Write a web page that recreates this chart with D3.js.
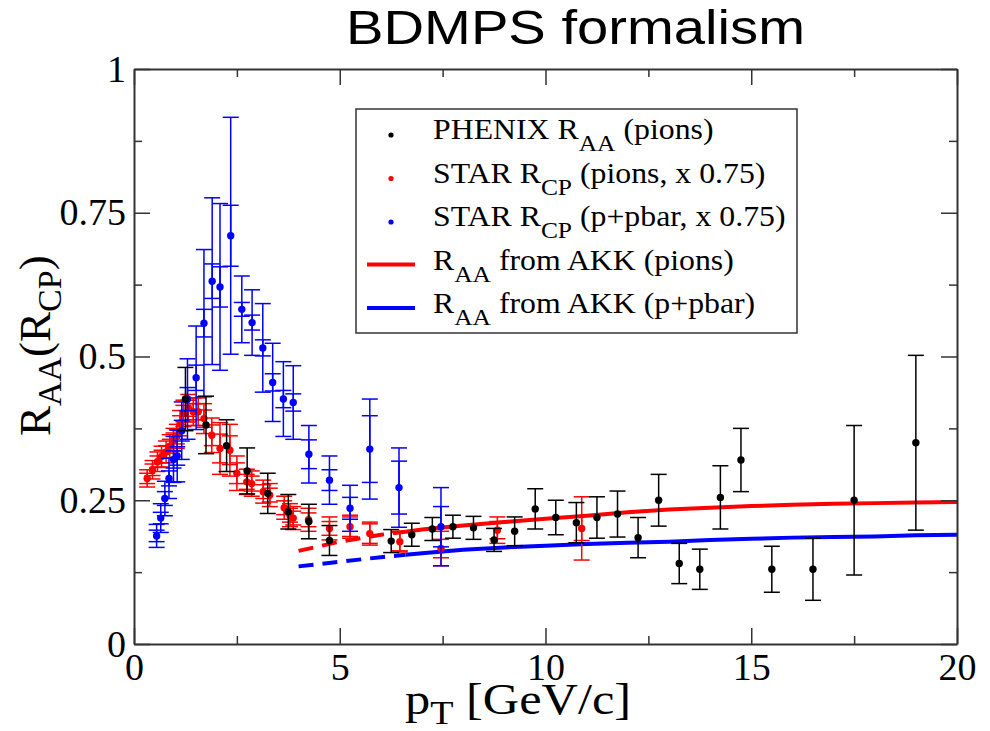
<!DOCTYPE html>
<html>
<head>
<meta charset="utf-8">
<script src="https://cdn.jsdelivr.net/npm/d3@7/dist/d3.min.js"></script>
<style>
  body { margin: 0; background: #fff; }
  svg text { font-family: "Liberation Serif", "Times New Roman", serif; fill: #000; }
</style>
</head>
<body>
<svg width="990" height="731"></svg>
<script>
// PHENIX R_AA (pions)
const phenixPt  = [1.25, 1.75, 2.25, 2.75, 3.25, 3.75, 4.25, 4.75, 6.25, 6.75, 7.25, 7.75, 8.25, 8.75, 9.25, 9.75, 10.25, 10.75, 11.25, 11.75, 12.25, 12.75, 13.25, 13.75, 14.25, 14.75, 15.5, 16.5, 17.5, 19.0]
const phenixR   = [0.426, 0.381, 0.345, 0.301, 0.262, 0.230, 0.213, 0.180, 0.179, 0.190, 0.200, 0.204, 0.202, 0.181, 0.196, 0.235, 0.220, 0.211, 0.220, 0.226, 0.185, 0.250, 0.140, 0.130, 0.255, 0.320, 0.130, 0.130, 0.250, 0.350]
const phenixErr = [0.055, 0.050, 0.045, 0.040, 0.035, 0.030, 0.030, 0.026, 0.020, 0.020, 0.020, 0.020, 0.020, 0.020, 0.025, 0.035, 0.030, 0.035, 0.036, 0.040, 0.035, 0.045, 0.035, 0.035, 0.055, 0.055, 0.040, 0.054, 0.130, 0.152]

// STAR R_CP (pions, x 0.75)
const starPiPt    = [0.32, 0.45, 0.57, 0.67, 0.78, 0.87, 0.96, 1.04, 1.12, 1.20, 1.32, 1.44, 1.56, 1.70, 1.89, 2.09, 2.33, 2.50, 2.74, 2.86, 3.14, 3.30, 3.65, 3.79, 3.87, 4.24, 4.75, 5.25, 5.73, 6.46, 7.46, 8.83, 10.88]
const starPiR     = [0.288, 0.303, 0.317, 0.326, 0.334, 0.344, 0.355, 0.361, 0.384, 0.401, 0.410, 0.404, 0.404, 0.392, 0.363, 0.340, 0.337, 0.297, 0.282, 0.279, 0.265, 0.259, 0.237, 0.224, 0.219, 0.216, 0.201, 0.204, 0.192, 0.178, 0.166, 0.198, 0.201]
const starPiOuter = [0.015, 0.016, 0.017, 0.018, 0.019, 0.020, 0.020, 0.021, 0.022, 0.023, 0.024, 0.024, 0.024, 0.026, 0.030, 0.045, 0.045, 0.030, 0.022, 0.022, 0.020, 0.020, 0.020, 0.020, 0.020, 0.020, 0.020, 0.020, 0.020, 0.018, 0.030, 0.023, 0.055]
const starPiInner = [0.009, 0.010, 0.010, 0.011, 0.011, 0.012, 0.012, 0.013, 0.013, 0.014, 0.014, 0.014, 0.014, 0.015, 0.018, 0.025, 0.025, 0.018, 0.013, 0.013, 0.012, 0.012, 0.012, 0.012, 0.012, 0.012, 0.012, 0.017, 0.017, 0.016, 0.016, 0.015, 0.021]

// STAR R_CP (p+pbar, x 0.75)
const starPPt    = [0.55, 0.65, 0.75, 0.85, 0.96, 1.05, 1.16, 1.30, 1.51, 1.70, 1.90, 2.09, 2.35, 2.62, 2.87, 3.13, 3.37, 3.63, 3.87, 4.25, 4.75, 5.25, 5.73, 6.44, 7.46]
const starPR     = [0.188, 0.219, 0.253, 0.288, 0.321, 0.327, 0.371, 0.426, 0.463, 0.558, 0.631, 0.621, 0.710, 0.582, 0.559, 0.515, 0.455, 0.426, 0.420, 0.330, 0.285, 0.236, 0.339, 0.272, 0.204]
const starPOuter = [0.020, 0.025, 0.030, 0.035, 0.040, 0.045, 0.050, 0.070, 0.090, 0.128, 0.145, 0.145, 0.206, 0.058, 0.057, 0.077, 0.068, 0.065, 0.064, 0.050, 0.042, 0.040, 0.087, 0.069, 0.068]
const starPInner = [0.010, 0.010, 0.012, 0.013, 0.015, 0.016, 0.018, 0.020, 0.022, 0.024, 0.030, 0.035, 0.053, 0.012, 0.013, 0.014, 0.015, 0.015, 0.015, 0.025, 0.018, 0.019, 0.058, 0.046, 0.035]

// R_AA from AKK (dashed below dashedBelow)
const akkPt     = [4, 5, 6, 7, 8, 9, 10, 11, 12, 13, 14, 15, 16, 17, 18, 19, 20]
const akkPionR  = [0.162, 0.178, 0.190, 0.199, 0.206, 0.212, 0.218, 0.223, 0.229, 0.234, 0.237, 0.240, 0.242, 0.244, 0.245, 0.246, 0.247]
const akkProtR  = [0.135, 0.143, 0.151, 0.158, 0.164, 0.168, 0.171, 0.174, 0.176, 0.178, 0.181, 0.183, 0.185, 0.186, 0.187, 0.189, 0.190]
const dashedBelow = 6.6

const xTicks = [0, 5, 10, 15, 20]
const xMinor = [2.5, 7.5, 12.5, 17.5]
const yTicks = [0, 0.25, 0.5, 0.75, 1]
const yTickLabels = ["0", "0.25", "0.5", "0.75", "1"]
const yMinor = [0.125, 0.375, 0.625, 0.875]

const svg = d3.select('svg')
const x = d3.scaleLinear().domain([0, 20]).range([134, 957])
const y = d3.scaleLinear().domain([0, 1]).range([644, 69])

function toPoints(xs, ys, outer, inner) {
    return xs.map((v, i) => ({ pt: v, r: ys[i], outer: outer ? outer[i] : 0, inner: inner ? inner[i] : 0 }))
}

// title
svg.append('text')
    .attr('x', 346).attr('y', 44)
    .attr('textLength', 459).attr('lengthAdjust', 'spacingAndGlyphs')
    .style('font-family', '"Liberation Sans", Arial, sans-serif')
    .style('font-size', '49px')
    .text('BDMPS formalism')

// theory curves
const line = d3.line().x(d => x(d.pt)).y(d => y(d.r))
function drawCurve(ys, colour) {
    const pts = toPoints(akkPt, ys)
    const i = akkPt.findIndex(v => v > dashedBelow)
    const t = (dashedBelow - akkPt[i - 1]) / (akkPt[i] - akkPt[i - 1])
    const mid = { pt: dashedBelow, r: ys[i - 1] + t * (ys[i] - ys[i - 1]) }
    svg.append('path').datum([...pts.filter(d => d.pt < dashedBelow), mid])
        .attr('d', line).attr('fill', 'none')
        .attr('stroke', colour).attr('stroke-width', 4)
        .attr('stroke-dasharray', '15,9')
    svg.append('path').datum([mid, ...pts.filter(d => d.pt > dashedBelow)])
        .attr('d', line).attr('fill', 'none')
        .attr('stroke', colour).attr('stroke-width', 4)
}
drawCurve(akkPionR, '#ff0000')
drawCurve(akkProtR, '#0000ff')

// data sets with error bars
function drawSet(data, colour, capW) {
    const g = svg.append('g')
    data.forEach(d => {
        [d.outer, d.inner].filter(e => e > 0).forEach(e => {
            g.append('line')
                .attr('x1', x(d.pt)).attr('x2', x(d.pt))
                .attr('y1', y(d.r - e)).attr('y2', y(d.r + e))
                .attr('stroke', colour).attr('stroke-width', 1.5)
            ;[d.r - e, d.r + e].forEach(v => {
                g.append('line')
                    .attr('x1', x(d.pt) - capW).attr('x2', x(d.pt) + capW)
                    .attr('y1', y(v)).attr('y2', y(v))
                    .attr('stroke', colour).attr('stroke-width', 1.5)
            })
        })
    })
    g.selectAll('circle').data(data).enter().append('circle')
        .attr('cx', d => x(d.pt)).attr('cy', d => y(d.r))
        .attr('r', 3.7).attr('fill', colour)
}
drawSet(toPoints(starPiPt, starPiR, starPiOuter, starPiInner), '#ff0000', 8)
drawSet(toPoints(starPPt, starPR, starPOuter, starPInner), '#0000ff', 8)
drawSet(toPoints(phenixPt, phenixR, phenixErr), '#000000', 8)

// axes, ticks pointing inward on all four sides
function styleAxis(g) {
    g.select('.domain').attr('stroke', '#333').attr('stroke-width', 2)
    g.selectAll('.tick line').attr('stroke', '#333').attr('stroke-width', 1.5)
    g.selectAll('.tick text').style('font-family', '"Liberation Serif", "Times New Roman", serif')
        .style('font-size', '38px').attr('fill', '#000')
}
svg.append('g').attr('transform', 'translate(0,644)')
    .call(d3.axisBottom(x).tickValues(xTicks).tickSizeInner(-16).tickSizeOuter(0).tickPadding(9).tickFormat(d3.format('d')))
    .call(styleAxis)
svg.append('g').attr('transform', 'translate(0,69)')
    .call(d3.axisTop(x).tickValues(xTicks).tickSizeInner(-16).tickSizeOuter(0).tickFormat(''))
    .call(styleAxis)
svg.append('g').attr('transform', 'translate(134,0)')
    .call(d3.axisLeft(y).tickValues(yTicks).tickSizeInner(-16).tickSizeOuter(0).tickPadding(8).tickFormat((d, i) => yTickLabels[i]))
    .call(styleAxis)
svg.append('g').attr('transform', 'translate(957,0)')
    .call(d3.axisRight(y).tickValues(yTicks).tickSizeInner(-16).tickSizeOuter(0).tickFormat(''))
    .call(styleAxis)

// minor ticks
const minorAxes = [
    [d3.axisBottom(x).tickValues(xMinor), 'translate(0,644)'],
    [d3.axisTop(x).tickValues(xMinor), 'translate(0,69)'],
    [d3.axisLeft(y).tickValues(yMinor), 'translate(134,0)'],
    [d3.axisRight(y).tickValues(yMinor), 'translate(957,0)']
]
minorAxes.forEach(([ax, tr]) => {
    svg.append('g').attr('transform', tr)
        .call(ax.tickSizeInner(-8).tickSizeOuter(0).tickFormat(''))
        .call(g => g.select('.domain').remove())
        .call(g => g.selectAll('.tick line').attr('stroke', '#333').attr('stroke-width', 1.5))
})

// axis titles
const xt = svg.append('text').attr('transform', 'translate(405,714) scale(1.12,1)').style('font-size', '45px')
xt.append('tspan').text('p')
xt.append('tspan').attr('dy', 10).style('font-size', '34px').text('T')
xt.append('tspan').attr('dy', -10).text(' [GeV/c]')

const yt = svg.append('text').attr('transform', 'translate(50,436) rotate(-90)').style('font-size', '45px')
yt.append('tspan').text('R')
yt.append('tspan').attr('dy', 11).style('font-size', '34px').text('AA')
yt.append('tspan').attr('dy', -11).text('(R')
yt.append('tspan').attr('dy', 11).style('font-size', '34px').text('CP')
yt.append('tspan').attr('dy', -11).text(')')

// legend
const legendItems = [
    { kind: 'dot', colour: '#000000', pre: 'PHENIX R', sub: 'AA', post: ' (pions)' },
    { kind: 'dot', colour: '#ff0000', pre: 'STAR R', sub: 'CP', post: ' (pions, x 0.75)' },
    { kind: 'dot', colour: '#0000ff', pre: 'STAR R', sub: 'CP', post: ' (p+pbar, x 0.75)' },
    { kind: 'line', colour: '#ff0000', pre: 'R', sub: 'AA', post: ' from AKK (pions)' },
    { kind: 'line', colour: '#0000ff', pre: 'R', sub: 'AA', post: ' from AKK (p+pbar)' }
]
const legend = svg.append('g')
legend.append('rect')
    .attr('x', 356).attr('y', 109).attr('width', 441).attr('height', 224)
    .attr('fill', '#fff').attr('stroke', '#333').attr('stroke-width', 1.5)
legendItems.forEach((d, i) => {
    const base = 139 + i * 43.5
    if (d.kind === 'dot') {
        legend.append('circle').attr('cx', 391).attr('cy', base - 4).attr('r', 2.6).attr('fill', d.colour)
    } else {
        legend.append('line').attr('x1', 367).attr('x2', 415).attr('y1', base - 5).attr('y2', base - 5)
            .attr('stroke', d.colour).attr('stroke-width', 4)
    }
    const t = legend.append('text')
        .attr('transform', `translate(433,${base}) scale(1.06,1)`)
        .style('font-size', '30px')
    t.append('tspan').text(d.pre)
    t.append('tspan').attr('dy', 12).style('font-size', '24px').text(d.sub)
    t.append('tspan').attr('dy', -12).text(d.post)
})
</script>
</body>
</html>
